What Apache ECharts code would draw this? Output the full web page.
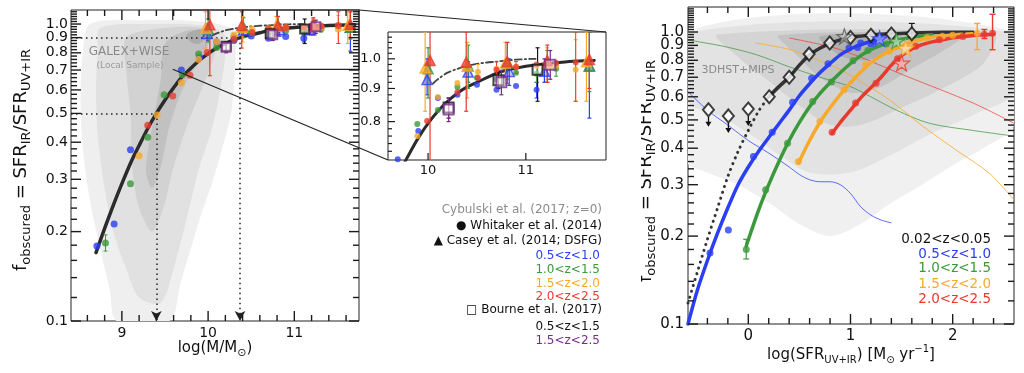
<!DOCTYPE html>
<html><head><meta charset="utf-8">
<script src="https://cdn.jsdelivr.net/npm/echarts@6/dist/echarts.min.js"></script>
<style>html,body{margin:0;padding:0;background:#fff}#c{width:1024px;height:373px}</style>
</head><body><div id="c"></div><script>
// ================= DATA =================
// ---- Left panel: f_obscured vs stellar mass ----
const fitX = [8.7,8.8,8.9,9.0,9.1,9.2,9.3,9.4,9.5,9.6,9.7,9.8,9.9,10.0,10.1,10.2,10.3,10.4,10.5,10.6,10.7,10.8,10.9,11.0,11.2,11.4,11.6,11.7];
const fitY = [0.17,0.205,0.245,0.29,0.34,0.39,0.445,0.50,0.555,0.61,0.665,0.71,0.755,0.795,0.83,0.86,0.885,0.905,0.92,0.935,0.95,0.96,0.967,0.974,0.983,0.989,0.993,0.994];
const dashDotX = [10.05,10.1,10.2,10.3,10.4,10.5,10.6,10.7,10.8,10.9,11.0,11.1];
const dashDotY = [0.916,0.93,0.952,0.965,0.975,0.982,0.987,0.99,0.994,0.997,0.999,1.0];
const halfMass = 9.40, ninetyMass = 10.37;

const whitakerBlue   = [[8.71,0.179],[8.91,0.212],[9.10,0.377],[9.69,0.70],[9.90,0.774],[10.10,0.87],[10.30,0.880],[10.50,0.912],[10.70,0.896],[10.90,0.908],[11.11,0.896]];
const whitakerGreen  = [[8.81,0.183],[9.10,0.290],[9.30,0.416],[9.49,0.578],[9.70,0.675],[9.89,0.793],[10.10,0.834],[10.30,0.905],[10.50,0.935],[10.70,0.930],[10.90,0.952],[11.11,0.948],[11.31,0.965]];
const whitakerOrange = [[9.20,0.360],[9.41,0.494],[9.69,0.634],[9.89,0.760],[10.10,0.873],[10.30,0.918],[10.51,0.954],[10.70,0.965],[10.90,0.972],[11.11,0.975],[11.31,0.975],[11.51,0.962]];
const whitakerRed    = [[9.30,0.456],[9.59,0.572],[9.79,0.672],[9.99,0.802],[10.30,0.889],[10.51,0.934],[10.70,0.962],[10.90,0.971],[11.11,0.980],[11.31,0.985],[11.51,0.988]];
const whitakerBlueErr   = [[11.11,0.896,0.87,0.92]];
const whitakerGreenErr  = [[8.81,0.183,0.172,0.195],[11.11,0.948,0.92,0.98],[11.31,0.965,0.94,0.99]];
const whitakerOrangeErr = [[11.51,0.962,0.86,1.07],[10.51,0.954,0.93,0.98]];
const whitakerRedErr    = [[11.51,0.988,0.86,1.10],[10.70,0.962,0.93,0.99],[10.90,0.971,0.95,0.99]];

const caseyBlue   = [[9.99,0.929,0.88,1.00],[10.41,0.954,0.92,0.99],[10.83,0.956,0.91,1.00],[11.19,0.957,0.92,1.00],[11.65,0.975,0.81,1.10]];
const caseyGreen  = [[10.00,0.965,0.87,1.04],[10.41,0.975,0.90,1.05],[10.81,0.985,0.93,1.06],[11.22,0.985,0.92,1.03],[11.65,0.975,0.89,1.10]];
const caseyOrange = [[9.97,0.968,0.83,1.10],[10.40,0.975,0.87,1.06],[10.79,0.985,0.91,1.06],[11.22,0.985,0.93,1.04],[11.62,0.990,0.86,1.10]];
const caseyRed    = [[10.02,0.994,0.67,1.20],[10.39,0.988,0.83,1.10],[10.81,0.990,0.916,1.06],[11.22,0.994,0.92,1.05],[11.65,0.998,0.90,1.12]];

const bourneBlack  = [[10.21,0.841,0.81,0.87],[10.72,0.927,0.90,0.955],[11.12,0.962,0.86,1.04]];
const bournePurple = [[10.21,0.835,0.80,0.87],[10.75,0.920,0.88,0.96],[11.25,0.979,0.93,1.03]];

// Cybulski z=0 density contours (logM, f)
const leftContours = [
  [[8.63,1.0],[9.2,1.03],[9.9,1.02],[10.28,0.96],[10.32,0.82],[10.30,0.63],[10.26,0.49],[10.06,0.30],[9.91,0.224],[9.68,0.134],[9.55,0.1],[8.94,0.1],[8.86,0.127],[8.75,0.174],[8.63,0.255],[8.55,0.376],[8.52,0.555],[8.55,0.818]],
  [[8.75,0.97],[9.3,1.0],[9.9,0.99],[10.18,0.93],[10.2,0.8],[10.15,0.62],[10.05,0.45],[9.9,0.33],[9.75,0.22],[9.6,0.15],[9.45,0.115],[9.2,0.12],[9.05,0.15],[8.9,0.2],[8.8,0.28],[8.72,0.42],[8.7,0.6],[8.72,0.82]],
  [[9.05,0.9],[9.5,0.97],[9.95,0.97],[10.1,0.9],[10.05,0.75],[9.9,0.58],[9.75,0.45],[9.6,0.33],[9.48,0.24],[9.35,0.2],[9.2,0.24],[9.12,0.33],[9.1,0.5],[9.05,0.7]],
  [[9.5,0.86],[9.75,0.95],[10.0,0.94],[10.0,0.85],[9.85,0.72],[9.7,0.6],[9.55,0.45],[9.45,0.33],[9.35,0.28],[9.28,0.32],[9.35,0.45],[9.45,0.65]],
  [[9.75,0.92],[9.9,0.96],[10.0,0.93],[9.9,0.86],[9.8,0.87]]
];

// ---- Right panel: f_obscured vs SFR ----
const blackDotX = [-0.59,-0.5,-0.4,-0.3,-0.2,-0.1,0.0,0.1,0.2];
const blackDotY = [0.118,0.15,0.195,0.25,0.32,0.39,0.46,0.535,0.60];
const blackSolidX = [0.2,0.3,0.4,0.5,0.6,0.7,0.8,0.9,1.0,1.1,1.2,1.4,1.6,1.8,2.0,2.2];
const blackSolidY = [0.60,0.65,0.70,0.77,0.835,0.88,0.915,0.94,0.958,0.968,0.976,0.986,0.992,0.996,0.998,0.999];
const blueCurveX = [-0.59,-0.5,-0.4,-0.3,-0.2,-0.1,0.0,0.1,0.2,0.3,0.4,0.5,0.6,0.7,0.8,0.9,1.0,1.1,1.2,1.3];
const blueCurveY = [0.10,0.13,0.165,0.205,0.25,0.30,0.345,0.39,0.435,0.485,0.54,0.605,0.665,0.725,0.78,0.835,0.875,0.905,0.93,0.95];
const greenCurveX = [-0.02,0.1,0.2,0.3,0.4,0.5,0.6,0.7,0.8,0.9,1.0,1.1,1.2,1.3,1.4,1.5,1.6,1.7,1.8];
const greenCurveY = [0.185,0.245,0.30,0.36,0.425,0.49,0.555,0.615,0.67,0.725,0.78,0.83,0.87,0.90,0.925,0.945,0.96,0.97,0.978];
const orangeCurveX = [0.49,0.6,0.7,0.8,0.9,1.0,1.1,1.2,1.3,1.4,1.5,1.6,1.7,1.84];
const orangeCurveY = [0.355,0.425,0.49,0.55,0.61,0.67,0.73,0.785,0.83,0.865,0.895,0.925,0.945,0.966];
const orangeExtX = [1.84,1.95,2.05,2.15,2.24];
const orangeExtY = [0.966,0.975,0.982,0.987,0.99];
const redCurveX = [0.82,0.9,1.0,1.1,1.2,1.3,1.4,1.5,1.6,1.7,1.8,1.9,2.0,2.1,2.2,2.3,2.4];
const redCurveY = [0.45,0.49,0.54,0.595,0.645,0.70,0.77,0.83,0.875,0.905,0.925,0.94,0.955,0.965,0.972,0.978,0.982];

const blackDiamonds = [[0.205,0.60],[0.40,0.70],[0.595,0.84],[0.797,0.917],[1.0,0.958],[1.2,0.974],[1.4,0.985],[1.6,0.987]];
const blackLimits   = [[-0.39,0.542],[-0.195,0.516],[0.0,0.545]];
const blackErr      = [[1.6,0.987,0.96,1.07],[1.4,0.985,0.96,1.01],[1.2,0.974,0.95,1.0]];
const blueDots   = [[-0.375,0.175],[-0.195,0.21],[0.05,0.375],[0.234,0.454],[0.433,0.575],[0.62,0.695],[0.78,0.779],[0.985,0.881],[1.07,0.885],[1.10,0.917],[1.20,0.91],[1.23,0.93]];
const greenDots  = [[-0.02,0.18],[0.17,0.288],[0.384,0.416],[0.63,0.578],[0.814,0.674],[1.025,0.797],[1.17,0.865],[1.35,0.91]];
const greenErr   = [[-0.02,0.18,0.167,0.195]];
const orangeDots = [[0.49,0.36],[0.70,0.494],[0.937,0.634],[1.148,0.772],[1.38,0.86],[1.6,0.93],[1.75,0.955],[1.9,0.968],[2.0,0.975],[2.24,0.99]];
const orangeErr  = [[2.24,0.99,0.87,1.07]];
const redDots    = [[0.82,0.454],[1.05,0.571],[1.25,0.668],[1.46,0.81],[1.64,0.893],[1.87,0.94],[2.1,0.965],[2.31,0.982],[2.39,0.99]];
const redErr     = [[2.39,0.99,0.87,1.15],[2.31,0.982,0.95,1.02]];
const starGray = [[0.94,0.966]], starBlue = [[1.285,0.95]], starGreen = [[1.45,0.93]], starOrange = [[1.54,0.88]], starRed = [[1.50,0.783]];

const blueThin   = [[-0.6,0.63],[-0.4,0.54],[-0.2,0.48],[0.0,0.425],[0.2,0.385],[0.4,0.345],[0.5,0.325],[0.6,0.312],[0.7,0.307],[0.8,0.307],[0.9,0.3],[1.0,0.28],[1.1,0.252],[1.2,0.236],[1.3,0.227],[1.4,0.222]];
const greenThin  = [[-0.6,0.94],[-0.24,0.893],[0.08,0.836],[0.4,0.76],[0.73,0.695],[1.0,0.65],[1.16,0.61],[1.45,0.54],[1.77,0.487],[2.2,0.46],[2.6,0.44]];
const orangeThin = [[0.07,0.917],[0.41,0.87],[0.65,0.81],[0.9,0.743],[1.15,0.66],[1.38,0.586],[1.71,0.475],[2.03,0.395],[2.36,0.328],[2.6,0.266]];
const redThin    = [[0.4,0.954],[0.9,0.87],[1.55,0.705],[2.2,0.571],[2.6,0.487]];

// 3DHST+MIPS density contours (logSFR, f)
const rightContours = [
  [[-0.6,1.0],[2.6,1.0],[2.6,0.48],[2.3,0.4],[2.0,0.35],[1.7,0.3],[1.4,0.26],[1.1,0.22],[0.8,0.2],[0.5,0.22],[0.2,0.26],[-0.1,0.3],[-0.4,0.33],[-0.6,0.36]],
  [[-0.6,0.99],[2.6,0.99],[2.6,0.62],[2.2,0.52],[1.8,0.45],[1.4,0.38],[1.0,0.33],[0.6,0.33],[0.3,0.38],[0.0,0.45],[-0.3,0.52],[-0.6,0.58]],
  [[-0.3,0.98],[2.4,0.98],[2.3,0.78],[1.9,0.64],[1.5,0.55],[1.1,0.48],[0.8,0.48],[0.5,0.56],[0.2,0.68],[-0.1,0.82]],
  [[0.3,0.975],[2.1,0.975],[1.9,0.86],[1.6,0.75],[1.3,0.65],[1.0,0.62],[0.7,0.7],[0.45,0.85]],
  [[0.7,0.965],[1.5,0.965],[1.4,0.87],[1.15,0.8],[0.9,0.83]]
];

// ---- Axes ticks / labels ----
const leftXLabels = [9,10,11];
const leftYLabels = [0.1,0.2,0.3,0.4,0.5,0.6,0.7,0.8,0.9,1.0];
const insetXLabels = [10,11];
const insetYLabels = [0.8,0.9,1.0];
const rightXLabels = [0,1,2];
const rightYLabels = [0.1,0.2,0.3,0.4,0.5,0.6,0.7,0.8,0.9,1.0];

const mainRange  = {x:[8.41,11.75], y:[0.1,1.115]};
const insetRange = {x:[9.59,11.82], y:[0.698,1.1]};
const zoomBox    = {x0:9.59, y0:0.704};
const rightRange = {x:[-0.59,2.6], y:[0.1,1.218]};

// ================= STYLE =================
const FONT = "'DejaVu Sans', sans-serif";
const C = {blue:'#2a3ef2', green:'#3b993b', orange:'#f7a92c', red:'#e9392d', purple:'#7b2a8e', black:'#151515'};
const STAR = 'path://M50 0 L61.8 35.1 L98.1 35.1 L68.8 56.8 L79.4 90.9 L50 69.9 L20.6 90.9 L31.2 56.8 L1.9 35.1 L38.2 35.1 Z';

function pairs(xs, ys){ return xs.map((x,i)=>[x, ys[i]]); }
function between(a, b, s, skip){ const out=[]; for(let k=0;;k++){ const v=+(a+k*s).toFixed(4); if(v>b+1e-9) break; if(!skip.some(m=>Math.abs(m-v)<1e-6)) out.push(v);} return out; }

function lineS(gi, data, color, width, type, extra){
  return Object.assign({type:'line', xAxisIndex:gi, yAxisIndex:gi, data, showSymbol:false, smooth:0.3, z:3, silent:true,
    lineStyle:{color, width, type:type||'solid', cap:'round'}}, extra||{});
}
function scatterS(gi, data, symbol, size, itemStyle, z){
  return {type:'scatter', xAxisIndex:gi, yAxisIndex:gi, data, symbol, symbolSize:size, itemStyle, z:z||5, silent:true};
}
function errS(gi, data, color, lw, cap){
  return {type:'custom', xAxisIndex:gi, yAxisIndex:gi, data, clip:true, z:4, silent:true, encode:{x:0,y:1},
    renderItem:(params, api)=>{
      const x=api.value(0), a=api.coord([x, api.value(2)]), b=api.coord([x, api.value(3)]);
      const st={stroke:color, lineWidth:lw};
      return {type:'group', children:[
        {type:'line', shape:{x1:a[0],y1:a[1],x2:b[0],y2:b[1]}, style:st},
        {type:'line', shape:{x1:a[0]-cap,y1:a[1],x2:a[0]+cap,y2:a[1]}, style:st},
        {type:'line', shape:{x1:b[0]-cap,y1:b[1],x2:b[0]+cap,y2:b[1]}, style:st}]};
    }};
}
function polyS(gi, polys, fills){
  return {type:'custom', xAxisIndex:gi, yAxisIndex:gi, clip:true, z:1, silent:true, encode:{x:0,y:1},
    data: polys.map(p=>p[0]),
    renderItem:(params, api)=>({type:'polygon', shape:{points:polys[params.dataIndex].map(p=>api.coord(p)), smooth:0.3},
      style:{fill:fills[params.dataIndex]}})};
}
function limitS(gi, data){
  return {type:'custom', xAxisIndex:gi, yAxisIndex:gi, z:5, silent:true, encode:{x:0,y:1}, data,
    renderItem:(params, api)=>{
      const p=api.coord([api.value(0), api.value(1)]);
      return {type:'group', children:[
        {type:'rect', shape:{x:p[0]-0.6, y:p[1]+7, width:1.3, height:6}, style:{fill:'#111'}},
        {type:'polygon', shape:{points:[[p[0]-3,p[1]+12],[p[0]+3,p[1]+12],[p[0],p[1]+17]]}, style:{fill:'#111'}}]};
    }};
}

// ================= SERIES =================
const series = [];
series.push(polyS(0, leftContours, ['#efefef','#e1e1e1','#d2d2d2','#c1c1c1','#ababab']));
series.push(polyS(2, rightContours, ['#f0f0f0','#e3e3e3','#d4d4d4','#c3c3c3','#afafaf']));

[0,1].forEach(gi=>{
  const main = gi===0;
  const fit = lineS(gi, pairs(fitX,fitY), '#2b2b2b', main?3.5:3);
  if(main){
    fit.markArea = {silent:true, itemStyle:{color:'rgba(0,0,0,0)', borderColor:'#222', borderWidth:1.2},
      data:[[{coord:[zoomBox.x0, zoomBox.y0]},{coord:[mainRange.x[1], mainRange.y[1]]}]]};
    fit.markLine = {silent:true, symbol:['none','none'], symbolSize:[8,10], label:{show:false},
      lineStyle:{type:[1.5,3.5], color:'#222', width:1.5},
      data:[
        [{coord:[mainRange.x[0],0.9]},{coord:[ninetyMass,0.9]}],
        [{coord:[mainRange.x[0],0.5]},{coord:[halfMass,0.5]}],
        [{coord:[halfMass,0.5]},{coord:[halfMass,mainRange.y[0]], symbol:'arrow'}],
        [{coord:[ninetyMass,0.9]},{coord:[ninetyMass,mainRange.y[0]], symbol:'arrow'}]
      ]};
  }
  series.push(fit);
  series.push(lineS(gi, pairs(dashDotX,dashDotY), '#444', 1.8, [7,3,1.5,3], {smooth:0.3}));
  const dot = main?7:6, tri = 10, sq = main?9:10;
  series.push(errS(gi, whitakerBlueErr, C.blue, 1, 2));
  series.push(errS(gi, whitakerGreenErr, C.green, 1, 2));
  series.push(errS(gi, whitakerOrangeErr, C.orange, 1, 2));
  series.push(errS(gi, whitakerRedErr, C.red, 1, 2));
  series.push(scatterS(gi, whitakerBlue, 'circle', dot, {color:C.blue}));
  series.push(scatterS(gi, whitakerGreen, 'circle', dot, {color:C.green}));
  series.push(scatterS(gi, whitakerOrange, 'circle', dot, {color:C.orange}));
  series.push(scatterS(gi, whitakerRed, 'circle', dot, {color:C.red}));
  [[caseyBlue,C.blue,'rgba(42,62,242,0.35)'],[caseyGreen,C.green,'rgba(59,153,59,0.6)'],[caseyOrange,C.orange,'rgba(247,169,44,0.85)'],[caseyRed,C.red,'rgba(233,57,45,0.9)']].forEach(([d,c,f])=>{
    series.push(errS(gi, d, c, 1.2, 2));
    series.push(scatterS(gi, d.map(p=>[p[0],p[1]]), 'triangle', tri, {color:f, borderColor:c, borderWidth:1.5}, 6));
  });
  series.push(errS(gi, bourneBlack, C.black, 1.2, 2));
  series.push(errS(gi, bournePurple, C.purple, 1.2, 2));
  series.push(scatterS(gi, bourneBlack.map(p=>[p[0],p[1]]), 'rect', sq, {color:'rgba(255,255,255,0.5)', borderColor:C.black, borderWidth:2}, 7));
  series.push(scatterS(gi, bournePurple.map(p=>[p[0],p[1]]), 'rect', sq, {color:'rgba(255,255,255,0.5)', borderColor:C.purple, borderWidth:2}, 7));
});

// right panel
series.push(lineS(2, blueThin, C.blue, 1, 'solid', {z:2, lineStyle:{color:C.blue, width:1, opacity:0.75}}));
series.push(lineS(2, greenThin, C.green, 1, 'solid', {z:2, lineStyle:{color:C.green, width:1, opacity:0.75}}));
series.push(lineS(2, orangeThin, C.orange, 1, 'solid', {z:2, lineStyle:{color:C.orange, width:1, opacity:0.8}}));
series.push(lineS(2, redThin, C.red, 1, 'solid', {z:2, lineStyle:{color:C.red, width:1, opacity:0.7}}));
series.push(lineS(2, pairs(blackDotX,blackDotY), '#333', 3, [0.1,6]));
series.push(lineS(2, pairs(blackSolidX,blackSolidY), '#333', 3.5));
series.push(lineS(2, pairs(blueCurveX,blueCurveY), C.blue, 3.5));
series.push(lineS(2, pairs(greenCurveX,greenCurveY), C.green, 3.5));
series.push(lineS(2, pairs(orangeCurveX,orangeCurveY), C.orange, 3.5));
series.push(lineS(2, pairs(orangeExtX,orangeExtY), C.orange, 3, [6,4]));
series.push(lineS(2, pairs(redCurveX,redCurveY), C.red, 3.5));
series.push(errS(2, blackErr, C.black, 1.2, 3));
series.push(errS(2, greenErr, C.green, 1.2, 3));
series.push(errS(2, orangeErr, C.orange, 1.4, 3));
series.push(errS(2, redErr, C.red, 1.4, 3));
series.push(scatterS(2, blueDots, 'circle', 7, {color:C.blue}));
series.push(scatterS(2, greenDots, 'circle', 7, {color:C.green}));
series.push(scatterS(2, orangeDots, 'circle', 7, {color:C.orange}));
series.push(scatterS(2, redDots, 'circle', 7, {color:C.red}));
series.push(scatterS(2, blackDiamonds, 'diamond', [11,13], {color:'#fff', borderColor:'#111', borderWidth:2}, 6));
series.push(scatterS(2, blackLimits, 'diamond', [11,13], {color:'#fff', borderColor:'#111', borderWidth:2}, 6));
series.push(limitS(2, blackLimits));
series.push(scatterS(2, starGray, STAR, 15, {color:'rgba(210,210,210,0.7)', borderColor:'#555', borderWidth:1.2}, 7));
series.push(scatterS(2, starBlue, STAR, 15, {color:'#8d9cff', borderColor:C.blue, borderWidth:1.2}, 7));
series.push(scatterS(2, starGreen, STAR, 15, {color:'#a5d8a5', borderColor:C.green, borderWidth:1.2}, 7));
series.push(scatterS(2, starOrange, STAR, 16, {color:'#ffe09a', borderColor:C.orange, borderWidth:1.2}, 7));
series.push(scatterS(2, starRed, STAR, 16, {color:'#f8a9a9', borderColor:C.red, borderWidth:1.2}, 7));

const option = {
  animation:false,
  backgroundColor:'#fff',
  grid:[
    {left:71, top:10, width:288, height:311, show:true, borderColor:'#222', borderWidth:1, backgroundColor:'rgba(0,0,0,0)'},
    {left:388, top:32, width:218, height:128, show:true, borderColor:'#222', borderWidth:1, backgroundColor:'#fff'},
    {left:688, top:7, width:326, height:317, show:true, borderColor:'#222', borderWidth:1, backgroundColor:'rgba(0,0,0,0)'}
  ],
  xAxis:[
    {gridIndex:0, type:'value', min:mainRange.x[0], max:mainRange.x[1], show:false},
    {gridIndex:1, type:'value', min:insetRange.x[0], max:insetRange.x[1], show:false},
    {gridIndex:2, type:'value', min:rightRange.x[0], max:rightRange.x[1], show:false}
  ],
  yAxis:[
    {gridIndex:0, type:'log', logBase:10, min:mainRange.y[0], max:mainRange.y[1], show:false},
    {gridIndex:1, type:'log', logBase:10, min:insetRange.y[0], max:insetRange.y[1], show:false},
    {gridIndex:2, type:'log', logBase:10, min:rightRange.y[0], max:rightRange.y[1], show:false}
  ],
  series
};

const chart = echarts.init(document.getElementById('c'), null, {width:1024, height:373});
chart.setOption(option);

// ================= TICKS (positions from the axes' own scales) =================
function tickGraphics(gi, range, t, cfg){
  const els=[], col='#1a1a1a';
  const toPx = v => chart.convertToPixel({gridIndex:gi}, v);
  const lb = toPx([range.x[0], range.y[0]]), rt = toPx([range.x[1], range.y[1]]);
  const l=lb[0], b=lb[1], r=rt[0], top=rt[1];
  const mk = (x1,y1,x2,y2)=>({type:'line', z:30, shape:{x1,y1,x2,y2}, style:{stroke:col, lineWidth:cfg.lw}});
  const xt=(v,len,lab)=>{
    const px=toPx([v, range.y[0]])[0];
    els.push(mk(px,b,px,b-len));
    if(cfg.mirror) els.push(mk(px,top,px,top+len));
    if(lab) els.push({type:'text', z:30, x:px, y:b+cfg.xGap, style:{text:String(v), align:'center', verticalAlign:'top', font:cfg.font, fill:'#111'}});
  };
  const yt=(v,len,lab)=>{
    const py=toPx([range.x[0], v])[1];
    els.push(mk(l,py,l+len,py));
    if(cfg.mirror) els.push(mk(r,py,r-len,py));
    if(lab) els.push({type:'text', z:30, x:l-cfg.yGap, y:py, style:{text:v.toFixed(1), align:'right', verticalAlign:'middle', font:cfg.font, fill:'#111'}});
  };
  t.xMin.forEach(v=>xt(v,cfg.minor,false)); t.xMaj.forEach(v=>xt(v,cfg.major,true));
  t.yMin.forEach(v=>yt(v,cfg.minor,false)); t.yMaj.forEach(v=>yt(v,cfg.major,true));
  return els;
}
const tickEls = [].concat(
  tickGraphics(0, mainRange, {xMaj:leftXLabels, xMin:between(8.6,11.6,0.2,leftXLabels), yMaj:leftYLabels, yMin:between(0.12,1.1,0.02,leftYLabels)},
    {major:10, minor:6, lw:1.4, mirror:true, xGap:5, yGap:3, font:'14px '+FONT}),
  tickGraphics(1, insetRange, {xMaj:insetXLabels, xMin:[], yMaj:insetYLabels, yMin:between(0.72,1.08,0.02,insetYLabels)},
    {major:7, minor:4, lw:1.2, mirror:false, xGap:4, yGap:7, font:'13px '+FONT}),
  tickGraphics(2, rightRange, {xMaj:rightXLabels, xMin:between(-0.4,2.4,0.2,rightXLabels), yMaj:rightYLabels, yMin:between(0.12,1.2,0.02,rightYLabels)},
    {major:10, minor:6, lw:1.4, mirror:true, xGap:5, yGap:4, font:'15px '+FONT})
);

// ================= TEXT / DECORATION =================
function txt(x, y, text, fill, size, align){
  return {type:'text', x, y, z:20, style:{text, fill, font:size+'px '+FONT, align:align||'right', verticalAlign:'middle'}};
}
const richT = (main, sub) => ({
  m:{fontFamily:'DejaVu Sans', fontSize:main, fill:'#111', lineHeight:main+6},
  s:{fontFamily:'DejaVu Sans', fontSize:sub, fill:'#111', lineHeight:sub+1, verticalAlign:'bottom'},
  u:{fontFamily:'DejaVu Sans', fontSize:sub, fill:'#111', lineHeight:sub+1, verticalAlign:'top'}
});
const p1 = chart.convertToPixel({gridIndex:0}, [zoomBox.x0, zoomBox.y0]);
const p2 = chart.convertToPixel({gridIndex:1}, [insetRange.x[0], insetRange.y[0]]);
const p3 = chart.convertToPixel({gridIndex:0}, [mainRange.x[1], mainRange.y[1]]);
const p4 = chart.convertToPixel({gridIndex:1}, [insetRange.x[1], insetRange.y[1]]);
const lineSt = {stroke:'#222', lineWidth:1.2};

chart.setOption({graphic:[
  {type:'line', z:20, shape:{x1:p1[0],y1:p1[1],x2:p2[0],y2:p2[1]}, style:lineSt},
  {type:'line', z:20, shape:{x1:p3[0],y1:p3[1],x2:p4[0],y2:p4[1]}, style:lineSt},
  // axis titles
  {type:'text', x:21, y:160, rotation:Math.PI/2, z:20, style:{text:'{m|f}{s|obscured}{m| = SFR}{s|IR}{m|/SFR}{s|UV+IR}', rich:richT(18,13), align:'center', verticalAlign:'middle'}},
  {type:'text', x:646, y:171, rotation:Math.PI/2, z:20, style:{text:'{m|f}{s|obscured}{m| = SFR}{s|IR}{m|/SFR}{s|UV+IR}', rich:richT(18,13), align:'center', verticalAlign:'middle'}},
  {type:'rect', z:21, shape:{x:609, y:36, width:32, height:337}, style:{fill:'#fff'}},
  {type:'text', x:215, y:348, z:20, style:{text:'{m|log(M/M}{s|⊙}{m|)}', rich:richT(15,11), align:'center', verticalAlign:'middle'}},
  {type:'text', x:851, y:355, z:20, style:{text:'{m|log(SFR}{s|UV+IR}{m|) [M}{s|⊙}{m| yr}{u|−1}{m|]}', rich:richT(15,10), align:'center', verticalAlign:'middle'}},
  // annotations
  txt(129, 52, 'GALEX+WISE', '#8a8a8a', 12, 'center'),
  txt(130, 66, '(Local Sample)', '#9a9a9a', 9, 'center'),
  txt(738, 70, '3DHST+MIPS', '#8a8a8a', 11, 'center'),
  // middle legend
  txt(602, 210, 'Cybulski et al. (2017; z=0)', '#8c8c8c', 12),
  txt(602, 226, '● Whitaker et al. (2014)', '#111', 12),
  txt(602, 241, '▲ Casey et al. (2014; DSFG)', '#111', 12),
  txt(600, 255.5, '0.5<z<1.0', C.blue, 12),
  txt(600, 269.5, '1.0<z<1.5', C.green, 12),
  txt(600, 283.5, '1.5<z<2.0', C.orange, 12),
  txt(600, 297, '2.0<z<2.5', C.red, 12),
  txt(602, 310, '□ Bourne et al. (2017)', '#111', 12),
  txt(600, 327, '0.5<z<1.5', '#111', 12),
  txt(600, 341, '1.5<z<2.5', C.purple, 12),
  // right legend
  txt(991, 239, '0.02<z<0.05', '#111', 13.5),
  txt(991, 254, '0.5<z<1.0', C.blue, 13.5),
  txt(991, 268.5, '1.0<z<1.5', C.green, 13.5),
  txt(991, 284, '1.5<z<2.0', C.orange, 13.5),
  txt(991, 299, '2.0<z<2.5', C.red, 13.5)
].concat(tickEls)});
</script></body></html>
